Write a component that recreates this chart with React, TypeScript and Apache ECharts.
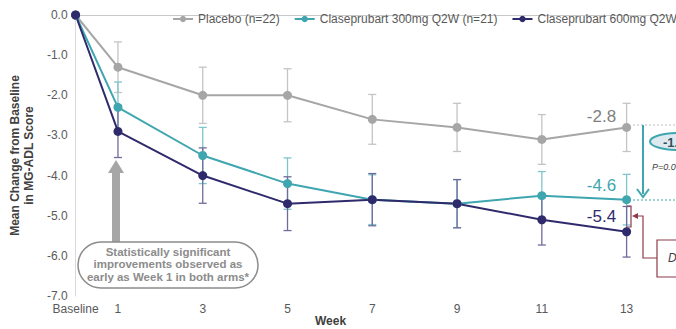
import React, { useEffect, useRef } from "react";
import * as echarts from "echarts";

const weeks = [0, 1, 3, 5, 7, 9, 11, 13];
const weekTickLabels = ["Baseline", "1", "3", "5", "7", "9", "11", "13"];
const seriesNames = [
  "Placebo (n=22)",
  "Claseprubart 300mg Q2W (n=21)",
  "Claseprubart 600mg Q2W (n=21)",
];
const placebo = [0, -1.3, -2.0, -2.0, -2.6, -2.8, -3.1, -2.8];
const dose300 = [0, -2.3, -3.5, -4.2, -4.6, -4.7, -4.5, -4.6];
const dose600 = [0, -2.9, -4.0, -4.7, -4.6, -4.7, -5.1, -5.4];
const placeboErr = [0, 0.63, 0.7, 0.66, 0.62, 0.6, 0.62, 0.6];
const dose300Err = [0, 0.63, 0.7, 0.64, 0.62, 0.6, 0.6, 0.63];
const dose600Err = [0, 0.65, 0.69, 0.67, 0.65, 0.6, 0.63, 0.63];
const yTicks = [0, -1, -2, -3, -4, -5, -6, -7];

const FONT = "'Liberation Sans', Arial, sans-serif";
const GRAY = "#a6a6a6";
const TEAL = "#3fa6b0";
const NAVY = "#2e2a6c";
const MAROON = "#8e3a4a";

function lineSeries(name: string, vals: number[], color: string, labelOffset: number) {
  return {
    name,
    type: "line",
    z: 3,
    symbol: "circle",
    symbolSize: 9,
    itemStyle: { color },
    lineStyle: { color, width: 2 },
    data: weeks.map((w, i) => {
      if (i === weeks.length - 1) {
        return {
          value: [w, vals[i]],
          label: {
            show: true,
            position: "left",
            distance: 6,
            offset: [0, labelOffset],
            fontSize: 17,
            fontFamily: FONT,
            color: color === GRAY ? "#808080" : color,
            formatter: (p: any) => p.value[1].toFixed(1),
          },
        };
      }
      return [w, vals[i]];
    }),
  };
}

function errSeries(name: string, vals: number[], errs: number[], color: string) {
  return {
    name: name + " err",
    type: "custom",
    z: 2,
    silent: true,
    data: weeks.map((w, i) => [w, vals[i], errs[i]]),
    renderItem: (params: any, api: any) => {
      const x = api.value(0);
      const y = api.value(1);
      const e = api.value(2);
      if (!e) return null;
      const top = api.coord([x, y + e]);
      const bot = api.coord([x, y - e]);
      const cw = 4;
      const style = { stroke: color, lineWidth: 1.3 };
      return {
        type: "group",
        children: [
          { type: "line", shape: { x1: top[0], y1: top[1], x2: bot[0], y2: bot[1] }, style },
          { type: "line", shape: { x1: top[0] - cw, y1: top[1], x2: top[0] + cw, y2: top[1] }, style },
          { type: "line", shape: { x1: bot[0] - cw, y1: bot[1], x2: bot[0] + cw, y2: bot[1] }, style },
        ],
      };
    },
  };
}

export default function App() {
  const ref = useRef<HTMLDivElement>(null);
  useEffect(() => {
    if (!ref.current) return;
    const chart = echarts.init(ref.current, null, { renderer: "svg" });
    chart.setOption({
      animation: false,
      backgroundColor: "#ffffff",
      textStyle: { fontFamily: FONT },
      grid: { left: 73, right: 7, top: 15, bottom: 33 },
      legend: {
        left: 167,
        top: 8,
        width: 1200,
        itemWidth: 20,
        itemHeight: 8,
        itemGap: 14,
        data: seriesNames,
        textStyle: { fontSize: 12, color: "#595959", fontFamily: FONT },
      },
      xAxis: {
        type: "value",
        min: 0,
        max: 14,
        interval: 1,
        axisTick: { show: false },
        splitLine: { show: false },
        axisLine: { lineStyle: { color: "#c8c8c8", width: 1 } },
        axisLabel: {
          margin: 7,
          fontSize: 12,
          color: "#595959",
          fontFamily: FONT,
          showMaxLabel: false,
          formatter: (v: number) => {
            const idx = weeks.indexOf(v);
            return idx >= 0 ? weekTickLabels[idx] : "";
          },
        },
      },
      yAxis: {
        type: "value",
        min: -7,
        max: 0,
        interval: 1,
        name: "Mean Change from Baseline\nin MG-ADL Score",
        nameLocation: "middle",
        nameGap: 34,
        nameTextStyle: {
          fontSize: 12,
          fontWeight: "bold",
          color: "#404040",
          fontFamily: FONT,
          lineHeight: 14,
        },
        axisTick: { show: false },
        splitLine: { show: false },
        axisLine: { show: true, lineStyle: { color: "#d9d9d9", width: 1 } },
        axisLabel: {
          margin: 8,
          fontSize: 12,
          color: "#595959",
          fontFamily: FONT,
          formatter: (v: number) => (yTicks.includes(v) ? v.toFixed(1) : ""),
        },
      },
      series: [
        errSeries(seriesNames[0], placebo, placeboErr, "#c4c4c4"),
        errSeries(seriesNames[1], dose300, dose300Err, "#7fc4cb"),
        errSeries(seriesNames[2], dose600, dose600Err, "#6f6c9c"),
        lineSeries(seriesNames[0], placebo, GRAY, -11),
        lineSeries(seriesNames[1], dose300, TEAL, -14),
        lineSeries(seriesNames[2], dose600, NAVY, -15),
      ],
      graphic: [
        {
          type: "text",
          left: 315,
          top: 315,
          style: { text: "Week", font: `bold 12px ${FONT}`, fill: "#404040" },
        },
        {
          type: "polygon",
          z: 10,
          shape: {
            points: [
              [116, 160], [124, 173], [120, 173], [120, 242],
              [112, 242], [112, 173], [108, 173],
            ],
          },
          style: { fill: GRAY },
        },
        {
          type: "rect",
          z: 10,
          shape: { x: 78, y: 242, width: 180, height: 46, r: 23 },
          style: { fill: "#ffffff", stroke: "#8c8c8c", lineWidth: 1.5 },
        },
        {
          type: "text",
          z: 11,
          style: {
            text: "Statistically significant\nimprovements observed as\nearly as Week 1 in both arms*",
            x: 168,
            y: 264,
            align: "center",
            verticalAlign: "middle",
            font: `bold 11.5px ${FONT}`,
            lineHeight: 12.5,
            fill: "#8c8c8c",
          },
        },
        // right-side annotations
        {
          type: "line",
          z: 10,
          shape: { x1: 633, y1: 125, x2: 676, y2: 125 },
          style: { stroke: "#bfbfbf", lineWidth: 1, lineDash: [2, 2] },
        },
        {
          type: "line",
          z: 10,
          shape: { x1: 633, y1: 200, x2: 676, y2: 200 },
          style: { stroke: TEAL, lineWidth: 1, lineDash: [2, 2] },
        },
        {
          type: "line",
          z: 10,
          shape: { x1: 643, y1: 125, x2: 643, y2: 194 },
          style: { stroke: TEAL, lineWidth: 2 },
        },
        {
          type: "polyline",
          z: 10,
          shape: { points: [[637, 189], [643, 197], [649, 189]] },
          style: { stroke: TEAL, lineWidth: 2, fill: "none" },
        },
        {
          type: "ellipse",
          z: 10,
          shape: { cx: 678, cy: 141.5, rx: 28, ry: 8.5 },
          style: { fill: "#dde9ef", stroke: TEAL, lineWidth: 2 },
        },
        {
          type: "text",
          z: 11,
          style: {
            text: "-1.8",
            x: 663,
            y: 142,
            verticalAlign: "middle",
            font: `bold 13px ${FONT}`,
            fill: "#2f4f5f",
          },
        },
        {
          type: "text",
          z: 11,
          style: {
            text: "P=0.0",
            x: 652,
            y: 167,
            verticalAlign: "middle",
            font: `italic 9px ${FONT}`,
            fill: "#404040",
          },
        },
        {
          type: "polyline",
          z: 10,
          shape: { points: [[627, 206], [631, 206], [631, 227], [627, 227]] },
          style: { stroke: MAROON, lineWidth: 1.2, fill: "none" },
        },
        {
          type: "polyline",
          z: 10,
          shape: { points: [[636, 216], [643, 216], [643, 258], [657, 258]] },
          style: { stroke: MAROON, lineWidth: 1.2, fill: "none" },
        },
        {
          type: "polygon",
          z: 10,
          shape: { points: [[632, 216], [638, 213], [638, 219]] },
          style: { fill: MAROON },
        },
        {
          type: "rect",
          z: 10,
          shape: { x: 657, y: 240, width: 40, height: 37 },
          style: { fill: "#ffffff", stroke: MAROON, lineWidth: 1.2 },
        },
        {
          type: "text",
          z: 11,
          style: {
            text: "D",
            x: 668,
            y: 258,
            verticalAlign: "middle",
            font: `italic 12px ${FONT}`,
            fill: "#404040",
          },
        },
      ],
    });
    return () => chart.dispose();
  }, []);
  return (
    <div
      ref={ref}
      style={{ position: "fixed", left: 0, top: 0, width: 676, height: 329, background: "#fff" }}
    />
  );
}
